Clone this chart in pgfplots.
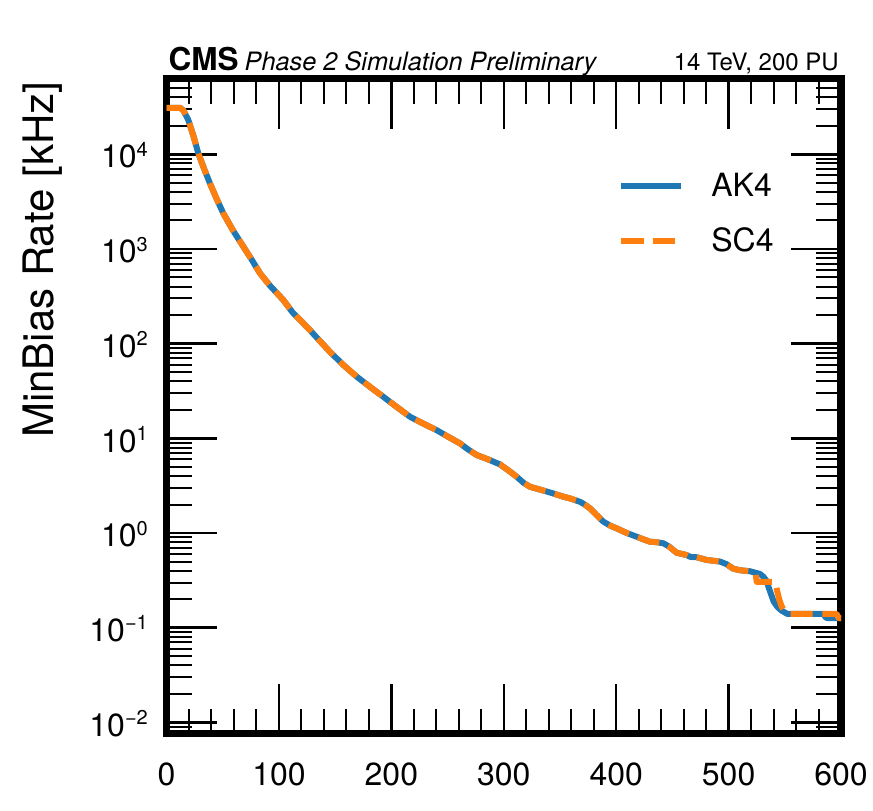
\documentclass[border=0pt]{standalone}
\usepackage{fontspec}
\setmainfont{TeX Gyre Heros}
\usepackage{pgfplots}
\pgfplotsset{compat=1.18}
\definecolor{mplblue}{HTML}{1F77B4}
\definecolor{mplorange}{HTML}{FF7F0E}
\newcommand{\ten}[1]{10\raisebox{0.36em}{\fontsize{20}{20}\selectfont #1}}
\pgfplotstableread{
x y
0 31000
12 31000
15 29000
19.4 23000
24 15500
28.3 10200
33.5 7000
38.7 4900
44.5 3400
50.5 2380
59 1580
68.3 1060
75.5 780
83.2 553
92 410
103.9 289
112 215
121.7 164
127.6 139
136 108
145.4 82
157 60
169.2 44.8
181 35
192.8 27.5
204.7 21.5
216.6 16.9
228.5 14.3
240.3 12.2
250.5 10.4
261 8.85
268.5 7.6
275.9 6.67
286 6.0
296.7 5.3
304 4.6
311.5 3.93
317.5 3.4
323.3 3.08
333.5 2.85
344 2.62
351.5 2.45
359 2.32
367.8 2.14
372 2.0
376.7 1.82
382.5 1.55
388.6 1.32
394.5 1.2
400.5 1.12
409.5 1.0
418.3 0.914
424 0.86
430.1 0.81
436 0.8
442 0.78
447 0.72
453.8 0.62
462.7 0.585
466 0.56
471.6 0.555
480.5 0.52
492.3 0.5
498 0.47
504.2 0.42
510 0.405
519 0.395
527.9 0.37
531 0.345
533.9 0.31
535.5 0.27
537.5 0.23
540 0.19
543.4 0.166
547 0.152
552.2 0.14
584.2 0.14
586.5 0.128
588.7 0.126
600 0.126
}\akfour
\pgfplotstableread{
x y
0 31000
12 31000
15 29000
19.4 23000
24 15500
28.3 10200
33.5 7000
38.7 4900
44.5 3400
50.5 2380
59 1580
68.3 1060
75.5 780
83.2 553
92 410
103.9 289
112 215
121.7 164
127.6 139
136 108
145.4 82
157 60
169.2 44.8
181 35
192.8 27.5
204.7 21.5
216.6 16.9
228.5 14.3
240.3 12.2
250.5 10.4
261 8.85
268.5 7.6
275.9 6.67
286 6.0
296.7 5.3
304 4.6
311.5 3.93
317.5 3.4
323.3 3.08
333.5 2.85
344 2.62
351.5 2.45
359 2.32
367.8 2.14
372 2.0
376.7 1.82
382.5 1.55
388.6 1.32
394.5 1.2
400.5 1.12
409.5 1.0
418.3 0.914
424 0.86
430.1 0.81
436 0.8
442 0.78
447 0.72
453.8 0.62
462.7 0.585
466 0.56
471.6 0.555
480.5 0.52
492.3 0.5
498 0.47
504.2 0.42
510 0.405
519 0.395
524 0.38
525 0.305
541.6 0.305
543 0.25
545 0.2
547 0.17
549.5 0.15
553 0.14
596 0.14
598 0.126
600 0.126
}\scfour
\begin{document}
\begin{tikzpicture}
\begin{axis}[
  scale only axis, width=674.5pt, height=655pt,
  clip=false,
  ymode=log, xmin=0, xmax=600, ymin=7.6e-3, ymax=6.28e4,
  axis line style={line width=7.5pt, line join=miter},
  tick align=inside, xtick pos=both, ytick pos=both,
  major tick length=50pt, minor tick length=25pt,
  every major tick/.append style={line width=2.5pt, black},
  every minor tick/.append style={line width=2pt, black},
  xtick={0,100,200,300,400,500,600}, minor x tick num=4,
  xticklabels={0,100,200,300,400,500,600},
  ytick={1e-2,1e-1,1,10,100,1000,10000},
  yticklabels={\ten{−2},\ten{−1},\ten{0},\ten{1},\ten{2},\ten{3},\ten{4}},
  minor ytick={8e-3,9e-3,2e-2,3e-2,4e-2,5e-2,6e-2,7e-2,8e-2,9e-2,0.2,0.3,0.4,0.5,0.6,0.7,0.8,0.9,2,3,4,5,6,7,8,9,20,30,40,50,60,70,80,90,200,300,400,500,600,700,800,900,2000,3000,4000,5000,6000,7000,8000,9000,20000,30000,40000,50000,60000},
  xticklabel style={font=\fontsize{32}{38}\selectfont, inner sep=0pt, anchor=north, yshift=-29pt},
  yticklabel style={font=\fontsize{32}{38}\selectfont, inner sep=0pt, anchor=base east, xshift=-18.5pt, yshift=-13.7pt},
  ylabel={MinBias Rate [kHz]},
  ylabel style={at={(rel axis cs:-0.1678,0.9954)}, anchor=base east, inner sep=0pt, font=\fontsize{42}{50}\selectfont},
  legend style={draw=none, fill=none, at={(rel axis cs:0.6698,0.8554)}, anchor=north west, inner sep=0pt, outer sep=0pt, font=\fontsize{32}{38}\selectfont, row sep=29.7pt, column sep=27pt, nodes={inner sep=0pt, outer sep=0pt}},
  legend cell align=left,
  legend image code/.code={\draw[#1] (0pt,0pt) -- (60pt,0pt);},
]
\addplot[mplblue, line width=6pt, line join=round] table[x=x,y=y] {\akfour};
\addlegendentry{AK4}
\addplot[mplorange, line width=6pt, line join=round, dash pattern=on 22.2pt off 9.6pt] table[x=x,y=y] {\scfour};
\addlegendentry{SC4}
\node[anchor=base west, inner sep=0pt, font=\fontsize{31.5}{36}\selectfont\bfseries] at (rel axis cs:0.0028,1.0133) {CMS};
\node[anchor=base west, inner sep=0pt, font=\fontsize{25.3}{30}\selectfont\itshape] at (rel axis cs:0.1156,1.0133) {Phase 2 Simulation Preliminary};
\node[anchor=base east, inner sep=0pt, font=\fontsize{24}{29}\selectfont] at (rel axis cs:0.997,1.0133) {14 TeV, 200 PU};
\coordinate (bb1) at (rel axis cs:-0.2469,-0.1165);
\coordinate (bb2) at (rel axis cs:1.0474,1.1202);
\end{axis}
\pgfresetboundingbox
\path[use as bounding box] (bb1) rectangle (bb2);
\end{tikzpicture}
\end{document}
